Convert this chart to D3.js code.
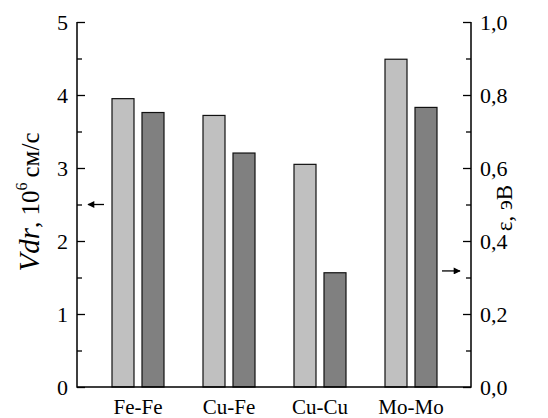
<!DOCTYPE html>
<html>
<head>
<meta charset="utf-8">
<script src="https://cdn.jsdelivr.net/npm/d3@7"></script>
<style>
  html, body { margin: 0; padding: 0; background: #fff; }
  svg { display: block; }
  svg text { font-family: "Times New Roman", "Liberation Serif", "DejaVu Serif", serif !important; fill: #000; }
</style>
</head>
<body>
<svg id="chart" width="548" height="418"></svg>
<script>
const categories = ["Fe-Fe", "Cu-Fe", "Cu-Cu", "Mo-Mo"];
const vdrValues = [3.95, 3.72, 3.05, 4.49];      // left axis, 10^6 см/с
const epsValues = [0.752, 0.641, 0.313, 0.766];  // right axis, эВ
const leftTicks = [0, 1, 2, 3, 4, 5];
const rightTicks = [0, 0.2, 0.4, 0.6, 0.8, 1.0];
const leftArrowValue = 2.5;
const rightArrowValue = 0.318;

const svg = d3.select("#chart");
const mLeft = 77, mRight = 471, mTop = 22, mBottom = 387;

const x = d3.scaleBand().domain(categories).range([92.5, 456.5]).padding(0);
const xInner = d3.scaleBand().domain(["vdr", "eps"])
  .range([19.5, x.bandwidth() - 19.5]).paddingInner(0.2667);
const yL = d3.scaleLinear().domain([0, 5]).range([mBottom, mTop]);
const yR = d3.scaleLinear().domain([0, 1]).range([mBottom, mTop]);

// Bars
const g = svg.append("g");
categories.forEach((c, i) => {
  g.append("rect")
    .attr("x", x(c) + xInner("vdr"))
    .attr("y", yL(vdrValues[i]))
    .attr("width", xInner.bandwidth())
    .attr("height", yL(0) - yL(vdrValues[i]))
    .attr("fill", "#c0c0c0").attr("stroke", "#111").attr("stroke-width", 1.2);
  g.append("rect")
    .attr("x", x(c) + xInner("eps"))
    .attr("y", yR(epsValues[i]))
    .attr("width", xInner.bandwidth())
    .attr("height", yR(0) - yR(epsValues[i]))
    .attr("fill", "#808080").attr("stroke", "#111").attr("stroke-width", 1.2);
});

// Left axis
const leftAxis = d3.axisLeft(yL).tickValues(leftTicks).tickSize(-8).tickPadding(9)
  .tickFormat(d3.format("d"));
const gl = svg.append("g").attr("transform", `translate(${mLeft},0)`).call(leftAxis)
  .attr("font-family", null);
gl.select(".domain").remove();
gl.selectAll("line").attr("stroke", "#000").attr("stroke-width", 1.3);
gl.selectAll("text").attr("font-size", 22).attr("dy", "0.34em");
const leftMinor = d3.axisLeft(yL).tickValues([0.5, 1.5, 2.5, 3.5, 4.5]).tickSize(-5).tickFormat("");
const glm = svg.append("g").attr("transform", `translate(${mLeft},0)`).call(leftMinor);
glm.select(".domain").remove();
glm.selectAll("line").attr("stroke", "#000").attr("stroke-width", 1.3);

// Right axis
const rightAxis = d3.axisRight(yR).tickValues(rightTicks).tickSize(-8).tickPadding(9)
  .tickFormat(d => d3.format(".1f")(d).replace(".", ","));
const gr = svg.append("g").attr("transform", `translate(${mRight},0)`).call(rightAxis)
  .attr("font-family", null);
gr.select(".domain").remove();
gr.selectAll("line").attr("stroke", "#000").attr("stroke-width", 1.3);
gr.selectAll("text").attr("font-size", 22).attr("dy", "0.34em");
const rightMinor = d3.axisRight(yR).tickValues([0.1, 0.3, 0.5, 0.7, 0.9]).tickSize(-5).tickFormat("");
const grm = svg.append("g").attr("transform", `translate(${mRight},0)`).call(rightMinor);
grm.select(".domain").remove();
grm.selectAll("line").attr("stroke", "#000").attr("stroke-width", 1.3);

// Axis lines
svg.append("path")
  .attr("d", `M${mLeft},${mTop}V${mBottom}H${mRight}V${mTop}`)
  .attr("fill", "none").attr("stroke", "#000").attr("stroke-width", 1.5);

// Category labels
svg.append("g").selectAll("text").data(categories).join("text")
  .attr("x", d => x(d) + x.bandwidth() / 2)
  .attr("y", 414)
  .attr("text-anchor", "middle")
  .attr("font-size", 21)
  .text(d => d);

// Arrows
const defs = svg.append("defs");
defs.append("marker").attr("id", "ah").attr("viewBox", "0 0 10 10")
  .attr("refX", 9).attr("refY", 5).attr("markerWidth", 10).attr("markerHeight", 7)
  .attr("markerUnits", "userSpaceOnUse").attr("orient", "auto")
  .append("path").attr("d", "M0,0L10,5L0,10Z").attr("fill", "#000");
svg.append("line")
  .attr("x1", 104).attr("x2", 88)
  .attr("y1", yL(leftArrowValue)).attr("y2", yL(leftArrowValue))
  .attr("stroke", "#000").attr("stroke-width", 1.3).attr("marker-end", "url(#ah)");
svg.append("line")
  .attr("x1", 442).attr("x2", 460)
  .attr("y1", yR(rightArrowValue)).attr("y2", yR(rightArrowValue))
  .attr("stroke", "#000").attr("stroke-width", 1.3).attr("marker-end", "url(#ah)");

// Left axis title
const lt = svg.append("text")
  .attr("transform", `translate(39,202) rotate(-90)`)
  .attr("text-anchor", "middle")
  .attr("font-size", 25);
lt.append("tspan").attr("font-style", "italic").attr("font-size", 29).text("Vdr");
lt.append("tspan").text(", 10");
lt.append("tspan").attr("font-size", 16).attr("dy", "-0.75em").text("6");
lt.append("tspan").attr("dy", "0.48em").text("\u2009см/с");

// Right axis title
svg.append("text")
  .attr("transform", `translate(512,208) rotate(-90)`)
  .attr("text-anchor", "middle")
  .attr("font-size", 23)
  .text("ε, эВ");
</script>
</body>
</html>
